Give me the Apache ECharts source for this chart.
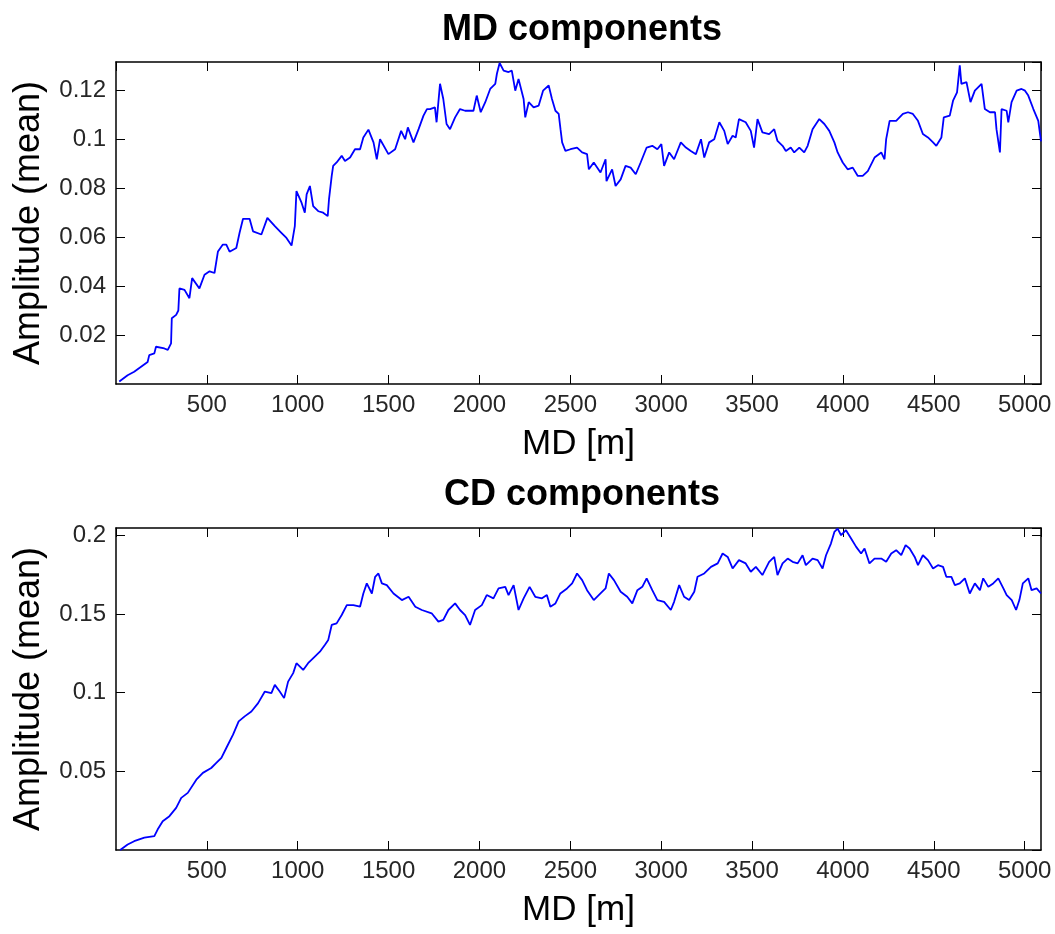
<!DOCTYPE html>
<html>
<head>
<meta charset="utf-8">
<title>MD / CD components</title>
<script src="https://cdn.jsdelivr.net/npm/echarts@6/dist/echarts.min.js"></script>
<style>
html, body { margin: 0; padding: 0; background: #fff; }
#chart { width: 1055px; height: 934px; }
</style>
</head>
<body>
<div id="chart"></div>
<script>
// MD components (top panel)
var mdDepth = [18,64,100,174,183,211,220,266,285,303,307,331,343,349,377,404,419,459,487,515,542,561,588,607,625,662,680,699,735,754,
  800,833,874,910,938,966,984,993,1021,1039,1049,1067,1085,1113,1140,1165,1172,1187,1195,1214,1242,1260,1288,1315,1343,1361,1389,1417,1435,1453,
  1499,1536,1569,1591,1606,1637,1665,1692,1711,1728,1755,1764,1783,1801,1819,1838,1866,1893,1921,1967,1985,2007,2032,2059,2087,2096,2111,2133,2160,2178,
  2197,2215,2243,2252,2271,2298,2326,2350,2381,2399,2418,2436,2446,2455,2473,2501,2537,2565,2592,2602,2629,2666,2694,2699,2730,2749,2777,2804,2832,2860,
  2887,2920,2951,2979,3001,3016,3044,3071,3108,3136,3163,3191,3219,3237,3264,3292,3320,3347,3366,3393,3410,3428,3465,3493,3511,3530,3557,3594,3622,3640,
  3668,3686,3713,3732,3760,3787,3806,3833,3870,3898,3925,3953,3971,3999,4026,4054,4082,4109,4137,4174,4211,4229,4238,4257,4293,4330,4358,4385,4413,4440,
  4468,4496,4514,4542,4555,4588,4606,4628,4643,4652,4680,4702,4726,4763,4781,4809,4837,4845,4864,4873,4901,4910,4928,4956,4983,5002,5020,5048,5075,5090];
var mdAmp = [0.001,0.0036,0.005,0.009,0.0118,0.0125,0.0152,0.0145,0.0139,0.0166,0.0268,0.0282,0.030,0.039,0.0384,0.035,0.0432,0.039,0.0446,0.046,
  0.0453,0.0541,0.0569,0.0569,0.054,0.0555,0.0617,0.0674,0.0674,0.0623,0.061,0.0678,0.0644,0.0617,0.0596,0.0565,0.0644,0.0787,0.074,0.0699,
  0.0774,0.0808,0.0726,0.0705,0.0699,0.0685,0.0753,0.0849,0.089,0.0904,0.0931,0.091,0.0924,0.0958,0.0958,0.1006,0.1038,0.0986,0.0917,0.0999,
  0.0938,0.0958,0.1033,0.0999,0.1047,0.0986,0.104,0.1095,0.1122,0.1122,0.1129,0.1068,0.1225,0.1163,0.1061,0.104,0.1088,0.1122,0.1115,0.1115,
  0.1177,0.1109,0.115,0.1204,0.1225,0.1266,0.131,0.1279,0.1273,0.1279,0.1197,0.1245,0.1163,0.1088,0.115,0.1129,0.1136,0.1197,0.1218,0.1163,
  0.1115,0.1102,0.104,0.0986,0.0951,0.0958,0.0965,0.0945,0.0938,0.0876,0.0904,0.0863,0.0917,0.0828,0.0876,0.0808,0.0835,0.089,0.0883,0.0856,
  0.0904,0.0965,0.0972,0.0958,0.0979,0.089,0.0945,0.0917,0.0986,0.0965,0.0951,0.0938,0.0999,0.0924,0.0986,0.0999,0.1068,0.1033,0.0979,0.1013,
  0.1006,0.1081,0.1068,0.1033,0.0965,0.1081,0.1027,0.102,0.104,0.0992,0.0972,0.0951,0.0965,0.0945,0.0965,0.0945,0.0972,0.104,0.1081,0.1061,
  0.1033,0.0986,0.0945,0.0904,0.0876,0.0883,0.0849,0.0849,0.0869,0.0924,0.0945,0.0917,0.0999,0.1074,0.1074,0.1102,0.1109,0.1102,0.1074,0.102,
  0.1006,0.0986,0.0972,0.1006,0.1088,0.1095,0.1156,0.119,0.130,0.1225,0.1232,0.115,0.1197,0.1225,0.1122,0.1109,0.1109,0.104,0.0945,0.1122,
  0.1115,0.1068,0.115,0.1197,0.1204,0.1197,0.1177,0.1122,0.1074,0.099];

// CD components (bottom panel)
var cdDepth = [23,64,100,156,211,229,257,294,331,359,395,442,478,524,552,580,607,644,675,708,745,782,819,855,874,901,925,947,975,993,
  1030,1057,1094,1122,1149,1168,1187,1214,1242,1270,1306,1343,1361,1380,1408,1426,1444,1463,1490,1527,1573,1610,1647,1683,1691,1737,1774,1801,1829,1866,
  1893,1921,1948,1976,2013,2040,2077,2105,2142,2160,2188,2215,2243,2276,2307,2344,2371,2390,2418,2445,2482,2510,2537,2565,2592,2629,2666,2694,2712,2740,
  2777,2813,2841,2869,2896,2920,2951,2979,3016,3053,3071,3099,3126,3154,3182,3200,3237,3274,3311,3338,3366,3393,3428,3465,3493,3521,3557,3594,3622,3640,
  3668,3696,3723,3751,3778,3796,3833,3861,3888,3907,3934,3953,3971,3990,4017,4045,4073,4100,4119,4146,4174,4211,4238,4266,4293,4321,4345,4367,4395,4413,
  4440,4468,4496,4523,4551,4569,4597,4616,4643,4671,4698,4726,4754,4772,4800,4827,4855,4883,4901,4929,4953,4971,4990,5020,5038,5066,5090];
var cdAmp = [0.000,0.0035,0.0056,0.0078,0.0088,0.013,0.0183,0.0215,0.0268,0.0331,0.0363,0.0447,0.049,0.0521,0.0553,0.0585,0.0648,0.0733,0.0817,0.0849,
  0.088,0.0933,0.1007,0.0997,0.1049,0.1007,0.0965,0.107,0.1124,0.1187,0.1144,0.1187,0.1229,0.126,0.1303,0.1335,0.143,0.144,0.1493,0.1556,
  0.1556,0.1546,0.163,0.1694,0.163,0.1736,0.1757,0.1694,0.1683,0.163,0.1588,0.1609,0.1546,0.1525,0.1535,0.1504,0.1451,0.1462,0.1525,0.1567,
  0.1525,0.1493,0.143,0.1525,0.1556,0.162,0.1599,0.1662,0.1672,0.162,0.1683,0.1525,0.1599,0.1672,0.1609,0.1599,0.162,0.1546,0.1567,0.163,
  0.1662,0.1694,0.1757,0.1715,0.1651,0.1588,0.163,0.1662,0.1757,0.1715,0.1641,0.1609,0.1567,0.1651,0.1672,0.1726,0.1651,0.1588,0.1577,0.1525,
  0.1577,0.1683,0.1609,0.1588,0.1641,0.1736,0.1757,0.1799,0.1821,0.1884,0.1862,0.1789,0.1842,0.1821,0.1768,0.1799,0.1747,0.1831,0.1862,0.1747,
  0.1821,0.1852,0.1831,0.1821,0.1873,0.181,0.1852,0.1842,0.1789,0.1873,0.1947,0.2021,0.2042,0.2,0.2032,0.1979,0.1926,0.1884,0.1916,0.1821,
  0.1852,0.1852,0.1831,0.1884,0.1905,0.1873,0.1937,0.1916,0.1862,0.181,0.1873,0.1842,0.1789,0.181,0.1799,0.1736,0.1736,0.1683,0.1694,0.1726,
  0.163,0.1694,0.1651,0.1726,0.1672,0.1694,0.1726,0.1662,0.162,0.1588,0.1525,0.1588,0.1694,0.1726,0.1651,0.1662,0.163];

var titles = ['MD components', 'CD components'];
var xName = 'MD [m]';
var yName = 'Amplitude (mean)';
var xRange = [0, 5090];
var yMax = [0.1314, 0.2046];
var yStep = [0.02, 0.05];
var xStep = 500;

var font = 'Arial, "Liberation Sans", Helvetica, sans-serif';

function pairs(xs, ys) {
  var out = [];
  for (var i = 0; i < xs.length; i++) out.push([xs[i], ys[i]]);
  return out;
}

// MATLAB style: only multiples of the step get a label, no 0 label
function tickFmt(step) {
  return function (v) {
    var k = v / step;
    if (v <= 0 || Math.abs(k - Math.round(k)) > 1e-6) return '';
    return String(+v.toFixed(4));
  };
}

function xAxisFor(grid, top) {
  return {
    type: 'value', gridIndex: grid, position: top ? 'top' : 'bottom',
    min: xRange[0], max: xRange[1], interval: xStep,
    name: top ? '' : xName, nameLocation: 'middle', nameGap: 43,
    nameTextStyle: { fontFamily: font, fontSize: 35, color: '#000' },
    axisLine: { show: true, onZero: false, lineStyle: { color: '#000', width: 1.5 } },
    axisTick: { show: true, inside: true, length: 9, lineStyle: { color: '#000', width: 1 } },
    axisLabel: { show: !top, showMinLabel: false, showMaxLabel: false, margin: 9, formatter: tickFmt(xStep),
      fontFamily: font, fontSize: 24, color: '#262626' },
    splitLine: { show: false }
  };
}

function yAxisFor(grid, right) {
  return {
    type: 'value', gridIndex: grid, position: right ? 'right' : 'left',
    min: 0, max: yMax[grid], interval: yStep[grid],
    name: right ? '' : yName, nameLocation: 'middle', nameGap: 69,
    nameTextStyle: { fontFamily: font, fontSize: 36, color: '#000' },
    axisLine: { show: true, onZero: false, lineStyle: { color: '#000', width: 1.5 } },
    axisTick: { show: true, inside: true, length: 9, lineStyle: { color: '#000', width: 1 } },
    axisLabel: { show: !right, showMinLabel: false, showMaxLabel: false, margin: 10, formatter: tickFmt(yStep[grid]),
      fontFamily: font, fontSize: 24, color: '#262626' },
    splitLine: { show: false }
  };
}

var chart = echarts.init(document.getElementById('chart'), null, { renderer: 'canvas' });
chart.setOption({
  backgroundColor: '#fff',
  animation: false,
  title: [
    { text: titles[0], left: 577, top: 7, textAlign: 'center',
      textStyle: { fontFamily: font, fontSize: 36, fontWeight: 'bold', color: '#000' } },
    { text: titles[1], left: 577, top: 472, textAlign: 'center',
      textStyle: { fontFamily: font, fontSize: 36, fontWeight: 'bold', color: '#000' } }
  ],
  grid: [
    { left: 116, top: 62, width: 925, height: 322 },
    { left: 116, top: 528, width: 925, height: 322 }
  ],
  xAxis: [xAxisFor(0, false), xAxisFor(0, true), xAxisFor(1, false), xAxisFor(1, true)],
  yAxis: [yAxisFor(0, false), yAxisFor(0, true), yAxisFor(1, false), yAxisFor(1, true)],
  series: [
    {
      name: titles[0], type: 'line', xAxisIndex: 0, yAxisIndex: 0,
      data: pairs(mdDepth, mdAmp), showSymbol: false, clip: true,
      lineStyle: { color: '#0000ff', width: 1.8 }
    },
    {
      name: titles[1], type: 'line', xAxisIndex: 2, yAxisIndex: 2,
      data: pairs(cdDepth, cdAmp), showSymbol: false, clip: true,
      lineStyle: { color: '#0000ff', width: 1.8 }
    }
  ]
});
</script>
</body>
</html>
